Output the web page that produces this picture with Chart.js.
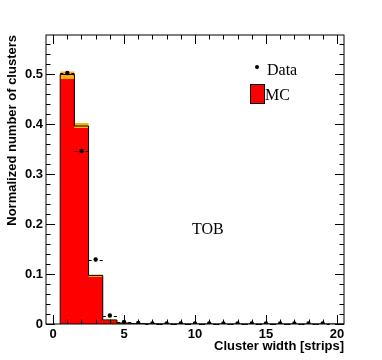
<!DOCTYPE html>
<html>
<head>
<meta charset="utf-8">
<script src="https://cdn.jsdelivr.net/npm/chart.js@4"></script>
<style>
  html, body { margin: 0; padding: 0; background: #fff; }
  #wrap { width: 382px; height: 360px; }
</style>
</head>
<body>
<div id="wrap"><canvas id="chart" width="382" height="360"></canvas></div>
<script>
// Bin centres (cluster width in strips)
const binCenters = [1, 2, 3, 4, 5, 6, 7, 8, 9, 10, 11, 12, 13, 14, 15, 16, 17, 18, 19, 20];
// MC histogram contents and its uncertainty band
const mcValues = [0.499, 0.396, 0.097, 0.008, 0.002, 0.0006, 0.0003, 0.0002, 0.0001, 0.0001, 0, 0, 0, 0, 0, 0, 0, 0, 0, 0];
const mcLow    = [0.490, 0.392, 0.094, 0.007, 0.0015, 0.0005, 0.0002, 0.0001, 0, 0, 0, 0, 0, 0, 0, 0, 0, 0, 0, 0];
const mcHigh   = [0.505, 0.402, 0.099, 0.009, 0.0025, 0.0008, 0.0004, 0.0002, 0.0001, 0.0001, 0, 0, 0, 0, 0, 0, 0, 0, 0, 0];
// Data points (bins 1..19)
const dataX = [1, 2, 3, 4, 5, 6, 7, 8, 9, 10, 11, 12, 13, 14, 15, 16, 17, 18, 19];
const dataY = [0.502, 0.346, 0.129, 0.017, 0.004, 0.002, 0.001, 0.001, 0.001, 0.001, 0.001, 0.001, 0.001, 0.001, 0.001, 0.001, 0.001, 0.001, 0.001];
// Axis ticks
const xTicks = [0, 5, 10, 15, 20];
const yTicks = [0, 0.1, 0.2, 0.3, 0.4, 0.5];

// histogram steps: Chart.js 'before' holds the previous y up to the next point,
// so each bin value sits at its lower edge, plus the last bin's upper edge
function steps(values) {
    const pts = values.map((v, i) => ({ x: binCenters[i] - 0.5, y: v }));
    pts.push({ x: binCenters[binCenters.length - 1] + 0.5, y: values[values.length - 1] });
    return pts;
}

const tickFont = { family: '"Liberation Sans", Arial, sans-serif', size: 13, weight: 'bold' };
const serif = '"Liberation Serif", "Times New Roman", serif';

// frame, inward ticks, error bars, titles, legend and label
const rootDecor = {
    id: 'rootDecor',
    afterDatasetsDraw(chart) {
        const c = chart.ctx;
        const xs = chart.scales.x, ys = chart.scales.y;
        const a = chart.chartArea;

        // horizontal error bars on the data points
        c.save();
        c.strokeStyle = '#000';
        c.lineWidth = 1;
        dataX.forEach((x, i) => {
            const py = Math.round(ys.getPixelForValue(dataY[i])) + 0.5;
            const px = xs.getPixelForValue(x);
            const l = xs.getPixelForValue(x - 0.5), r = xs.getPixelForValue(x + 0.5);
            c.beginPath();
            c.moveTo(l, py); c.lineTo(px - 4, py);
            c.moveTo(px + 4, py); c.lineTo(r, py);
            c.stroke();
        });
        c.restore();

        // frame
        c.save();
        c.strokeStyle = '#000';
        c.lineWidth = 1;
        c.strokeRect(a.left, a.top, a.right - a.left, a.bottom - a.top);

        // x ticks (minor every 1, major every 5)
        c.beginPath();
        for (let v = 0; v <= 20; v++) {
            const px = Math.round(xs.getPixelForValue(v)) + 0.5;
            const len = v % 5 === 0 ? 9 : 4.5;
            c.moveTo(px, a.bottom); c.lineTo(px, a.bottom - len);
            c.moveTo(px, a.top); c.lineTo(px, a.top + len);
        }
        // y ticks (minor every 0.02, major every 0.1)
        for (let k = 0; k <= 28; k++) {
            const py = Math.round(ys.getPixelForValue(k * 0.02)) + 0.5;
            const len = k % 5 === 0 ? 9 : 4.5;
            c.moveTo(a.left, py); c.lineTo(a.left + len, py);
            c.moveTo(a.right, py); c.lineTo(a.right - len, py);
        }
        c.stroke();
        c.restore();

        // axis titles
        c.save();
        c.fillStyle = '#000';
        c.font = 'bold 13px "Liberation Sans", Arial, sans-serif';
        c.textAlign = 'right';
        c.textBaseline = 'alphabetic';
        c.fillText('Cluster width [strips]', a.right, 350);
        c.translate(16, a.top);
        c.rotate(-Math.PI / 2);
        c.fillText('Normalized number of clusters', 0, 0);
        c.restore();

        // legend
        c.save();
        c.fillStyle = '#000';
        c.beginPath();
        c.arc(257, 67, 2, 0, Math.PI * 2);
        c.fill();
        c.font = '16px ' + serif;
        c.textBaseline = 'alphabetic';
        c.fillText('Data', 267, 75);
        c.fillStyle = '#ff0000';
        c.fillRect(251, 85, 13, 18);
        c.strokeStyle = '#000';
        c.lineWidth = 1;
        c.strokeRect(250.5, 84.5, 14, 19);
        c.fillStyle = '#000';
        c.fillText('MC', 265, 100);
        c.fillText('TOB', 192, 234);
        c.restore();
    }
};

const ctx = document.getElementById('chart').getContext('2d');
new Chart(ctx, {
    type: 'line',
    data: {
        datasets: [
            {
                label: 'MC',
                data: steps(mcValues),
                stepped: 'before',
                backgroundColor: '#ff0000',
                borderWidth: 0,
                pointRadius: 0,
                fill: 'origin',
                order: 5
            },
            {
                label: 'MC low',
                data: steps(mcLow),
                stepped: 'before',
                borderWidth: 0,
                pointRadius: 0,
                fill: false,
                order: 4
            },
            {
                label: 'MC high',
                data: steps(mcHigh),
                stepped: 'before',
                backgroundColor: '#ffb000',
                borderWidth: 0,
                pointRadius: 0,
                fill: '-1',
                order: 3
            },
            {
                label: 'MC outline',
                data: [{ x: binCenters[0] - 0.5, y: 0 }].concat(steps(mcValues)),
                stepped: 'before',
                borderColor: '#000',
                borderWidth: 1,
                pointRadius: 0,
                fill: false,
                order: 2
            },
            {
                type: 'scatter',
                label: 'Data',
                data: dataX.map((x, i) => ({ x: x, y: dataY[i] })),
                backgroundColor: '#000',
                borderColor: '#000',
                pointRadius: 2.2,
                pointBorderWidth: 0,
                order: 1
            }
        ]
    },
    options: {
        responsive: false,
        animation: false,
        events: [],
        layout: { padding: { left: 0, top: 35, right: 38, bottom: 0 } },
        plugins: {
            legend: { display: false },
            tooltip: { enabled: false }
        },
        scales: {
            x: {
                type: 'linear',
                min: -0.5,
                max: 20.5,
                grid: { display: false, drawTicks: false },
                border: { display: false },
                afterBuildTicks: s => { s.ticks = xTicks.map(v => ({ value: v })); },
                afterFit: s => { s.height = 36; },
                ticks: {
                    padding: 3,
                    color: '#000',
                    font: tickFont,
                    maxRotation: 0,
                    autoSkip: false,
                    callback: v => String(v)
                }
            },
            y: {
                type: 'linear',
                min: 0,
                max: 0.578,
                grid: { display: false, drawTicks: false },
                border: { display: false },
                afterBuildTicks: s => { s.ticks = yTicks.map(v => ({ value: v })); },
                afterFit: s => { s.width = 46; },
                ticks: {
                    padding: 3,
                    color: '#000',
                    font: tickFont,
                    autoSkip: false,
                    callback: v => String(Math.round(v * 10) / 10)
                }
            }
        }
    },
    plugins: [rootDecor]
});
</script>
</body>
</html>
